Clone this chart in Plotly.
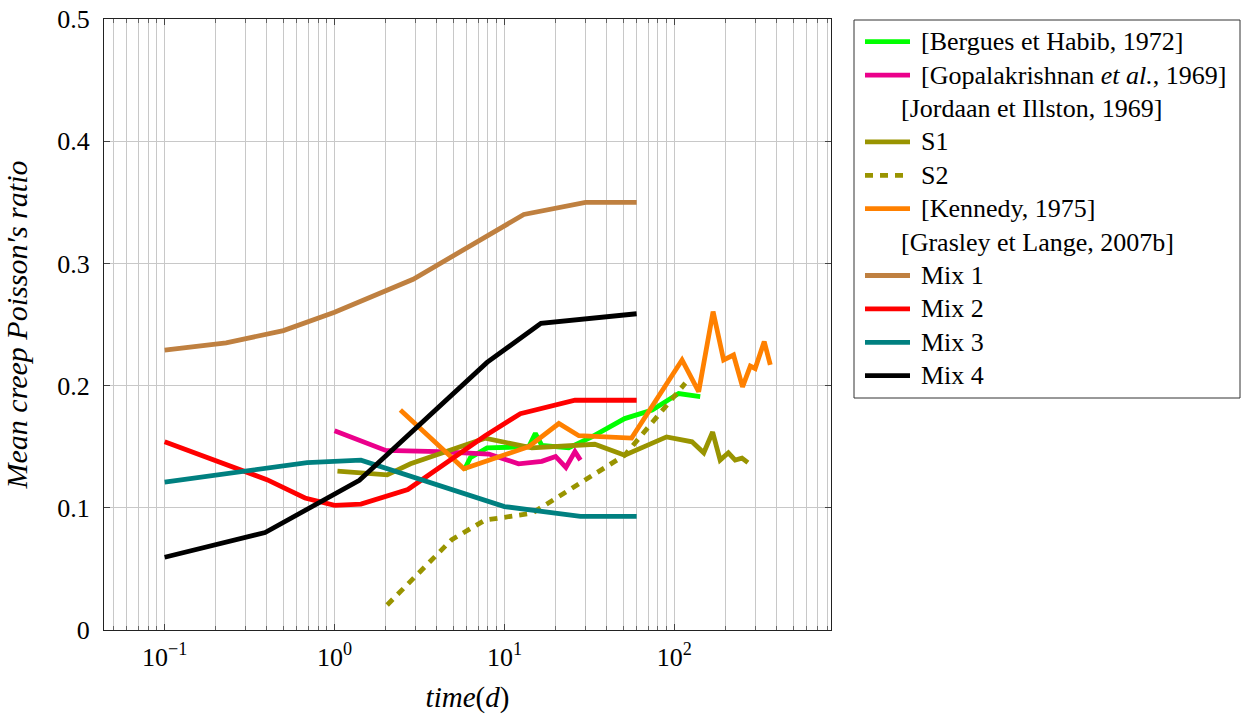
import plotly.graph_objects as go

# ---------------- data ----------------
t_bergues = [5.8, 6.3, 7.9, 13.9, 15.2, 16.6, 23.9, 32.7, 51, 74, 106, 142]
nu_bergues = [0.131, 0.141, 0.149, 0.150, 0.161, 0.151, 0.149, 0.158, 0.173, 0.180, 0.1935, 0.191]

t_gopal = [1.0, 2.0, 4.1, 8.1, 12.1, 16.6, 20, 23, 26, 28]
nu_gopal = [0.163, 0.147, 0.146, 0.144, 0.136, 0.138, 0.142, 0.133, 0.146, 0.139]

t_s1 = [1.04, 2.04, 2.8, 7.7, 14.5, 34, 51, 64, 90, 127, 149, 168, 186, 208, 228, 250, 271]
nu_s1 = [0.130, 0.127, 0.136, 0.157, 0.149, 0.152, 0.143, 0.149, 0.158, 0.154, 0.145,
         0.162, 0.139, 0.145, 0.139, 0.1406, 0.137]

t_s2 = [2.04, 4.9, 7.7, 14.5, 51, 88, 116]
nu_s2 = [0.0205, 0.074, 0.090, 0.0955, 0.143, 0.183, 0.202]

t_kennedy = [2.44, 5.77, 13.9, 20.9, 27.4, 56, 111, 139, 169, 195, 223, 252, 280, 299, 338, 367]
nu_kennedy = [0.180, 0.132, 0.150, 0.169, 0.159, 0.157, 0.221, 0.195, 0.2606, 0.221, 0.225,
              0.199, 0.216, 0.214, 0.236, 0.217]

t_mix1 = [0.1, 0.23, 0.5, 1.0, 2.9, 13, 30, 60]
nu_mix1 = [0.229, 0.235, 0.245, 0.26, 0.287, 0.34, 0.35, 0.35]

t_mix2 = [0.1, 0.4, 0.67, 1.0, 1.43, 2.7, 7.7, 12.4, 26, 60]
nu_mix2 = [0.154, 0.123, 0.108, 0.102, 0.103, 0.115, 0.159, 0.177, 0.188, 0.188]

t_mix3 = [0.1, 0.4, 0.69, 1.43, 10, 28, 60]
nu_mix3 = [0.121, 0.133, 0.137, 0.139, 0.101, 0.093, 0.093]

t_mix4 = [0.1, 0.39, 1.4, 7.9, 16.4, 60]
nu_mix4 = [0.0595, 0.0797, 0.1225, 0.219, 0.251, 0.2588]

x_tickvals = [0.1, 1, 10, 100]
x_ticktext = ["10<sup>−1</sup>", "10<sup>0</sup>", "10<sup>1</sup>", "10<sup>2</sup>"]
y_tickvals = [0, 0.1, 0.2, 0.3, 0.4, 0.5]
y_ticktext = ["0", "0.1", "0.2", "0.3", "0.4", "0.5"]

# ---------------- styling ----------------
GREEN = "#00FF00"
MAGENTA = "#EB008B"
OLIVE = "#999400"
ORANGE = "#FF8000"
BROWN = "#BF8040"
RED = "#FF0000"
TEAL = "#008080"
BLACK = "#000000"
FONT = "Liberation Serif"
FS = 26
LW = 4.8

# (label, x, y, color, dash) ; entries with x None are legend headers
entries = [
    ("[Bergues et Habib, 1972]", t_bergues, nu_bergues, GREEN, "solid"),
    ("[Gopalakrishnan <i>et al.</i>, 1969]", t_gopal, nu_gopal, MAGENTA, "solid"),
    ("[Jordaan et Illston, 1969]", None, None, None, None),
    ("S1", t_s1, nu_s1, OLIVE, "solid"),
    ("S2", t_s2, nu_s2, OLIVE, "8px,7px"),
    ("[Kennedy, 1975]", t_kennedy, nu_kennedy, ORANGE, "solid"),
    ("[Grasley et Lange, 2007b]", None, None, None, None),
    ("Mix 1", t_mix1, nu_mix1, BROWN, "solid"),
    ("Mix 2", t_mix2, nu_mix2, RED, "solid"),
    ("Mix 3", t_mix3, nu_mix3, TEAL, "solid"),
    ("Mix 4", t_mix4, nu_mix4, BLACK, "solid"),
]

# page body margin is removed (post_script), so figure pixels == page pixels
W, H = 1241, 716
PL, PR, PT, PB = 104, 831, 19, 630


def px2x(px):
    return (px - PL) / (PR - PL)


def py2y(py):
    return (PB - py) / (PB - PT)


fig = go.Figure()
for label, xs, ys, col, dash in entries:
    if xs is None:
        continue
    fig.add_trace(go.Scatter(x=xs, y=ys, mode="lines", name=label, showlegend=False,
                             line=dict(color=col, width=LW, dash=dash)))

# minor x grid positions (2..9 per decade)
minor_vals = [k * 10.0 ** e for e in range(-2, 3) for k in range(2, 10)]

GRID = "#C8C8C8"
fig.update_xaxes(
    type="log", range=[-1.357, 2.922], automargin=False,
    tickmode="array", tickvals=x_tickvals, ticktext=x_ticktext,
    showgrid=True, gridcolor=GRID, gridwidth=1,
    ticks="inside", ticklen=6, tickcolor="#444", tickwidth=1,
    minor=dict(tickmode="array", tickvals=minor_vals, showgrid=True, gridcolor=GRID,
               gridwidth=1, ticks="inside", ticklen=4, tickcolor="#666"),
    showline=True, linecolor="#222", linewidth=1, mirror="ticks",
    tickfont=dict(family=FONT, size=FS, color="black"),
    ticklabelstandoff=4, ticklabeloverflow="allow",
    title=dict(text="<i>time</i>(<i>d</i>)", font=dict(family=FONT, size=29, color="black"),
               standoff=15),
    zeroline=False,
)
fig.update_yaxes(
    range=[0, 0.5], automargin=False,
    tickmode="array", tickvals=y_tickvals, ticktext=y_ticktext,
    showgrid=True, gridcolor=GRID, gridwidth=1,
    ticks="inside", ticklen=6, tickcolor="#444", tickwidth=1,
    showline=True, linecolor="#222", linewidth=1, mirror="ticks",
    tickfont=dict(family=FONT, size=FS, color="black"),
    ticklabelstandoff=8, ticklabeloverflow="allow",
    title=dict(text="<i>Mean creep Poisson′s ratio</i>",
               font=dict(family=FONT, size=30, color="black"), standoff=20),
    zeroline=False,
)

# ---------------- manual legend (page pixel positions) ----------------
shapes = []
annotations = []
LEG_L, LEG_R, LEG_T, LEG_B = 854, 1240, 20, 398
shapes.append(dict(type="rect", xref="paper", yref="paper",
                   x0=px2x(LEG_L), x1=px2x(LEG_R), y0=py2y(LEG_B), y1=py2y(LEG_T),
                   line=dict(color="#333", width=1), fillcolor="white", layer="above"))
row0, row_step = 41.7, 33.4
for i, (label, xs, ys, col, dash) in enumerate(entries):
    ry = row0 + i * row_step
    if xs is not None:
        shapes.append(dict(type="line", xref="paper", yref="paper",
                           x0=px2x(865), x1=px2x(910), y0=py2y(ry), y1=py2y(ry),
                           line=dict(color=col, width=LW, dash=dash), layer="above"))
        tx = 919
    else:
        tx = 899
    annotations.append(dict(xref="paper", yref="paper", x=px2x(tx), y=py2y(ry),
                            xanchor="left", yanchor="middle", showarrow=False,
                            text=label, font=dict(family=FONT, size=FS, color="black")))

fig.update_layout(
    width=W, height=H,
    margin=dict(l=PL, r=W - PR, t=PT, b=H - PB, autoexpand=False),
    paper_bgcolor="white", plot_bgcolor="white",
    shapes=shapes, annotations=annotations,
    showlegend=False,
)

fig.write_html("out.html",
               config={"displayModeBar": False},
               post_script="document.body.style.margin='0px';"
                           "document.body.style.overflow='hidden';")
